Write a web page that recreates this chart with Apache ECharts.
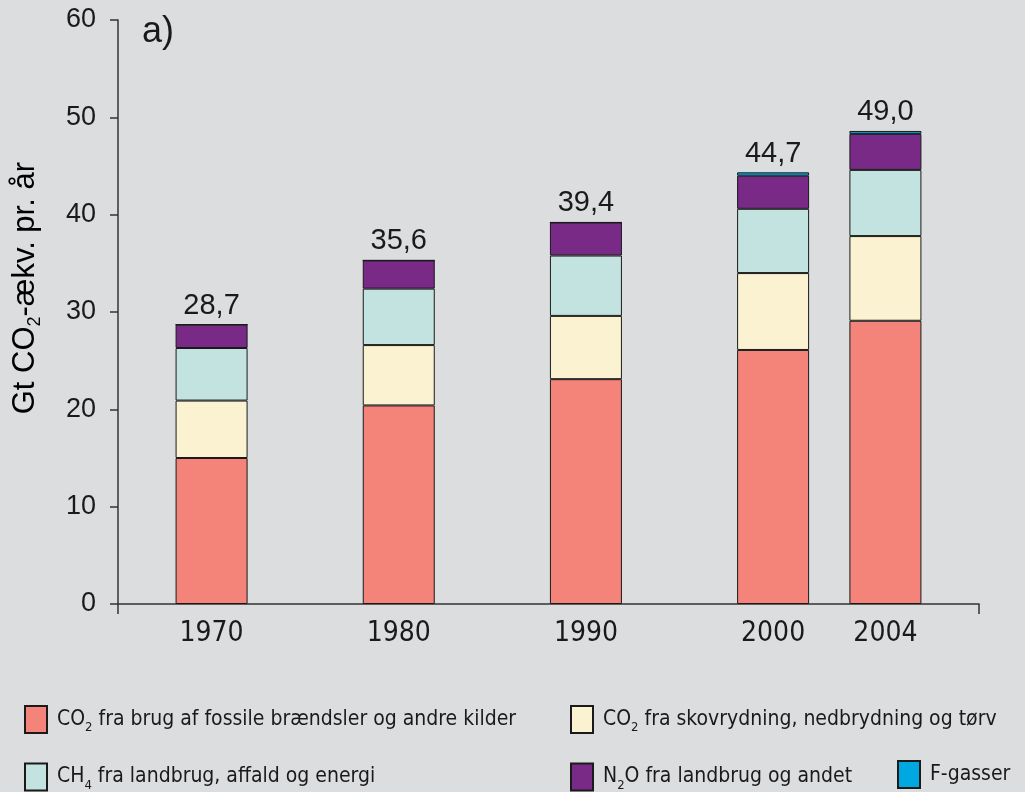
<!DOCTYPE html>
<html>
<head>
<meta charset="utf-8">
<script src="https://cdn.jsdelivr.net/npm/echarts@6/dist/echarts.min.js"></script>
<style>
  html, body { margin: 0; padding: 0; background: #dcdddf; }
  #chart { width: 1025px; height: 792px; }
</style>
</head>
<body>
<div id="chart"></div>
<script>
// data (Gt CO2-eq per year)
const years = ['1970', '1980', '1990', '2000', '2004']
const co2Fossil = [15.0, 20.4, 23.1, 26.1, 29.1]
const co2Forest = [5.9, 6.2, 6.5, 7.9, 8.7]
const ch4 = [5.4, 5.8, 6.2, 6.6, 6.8]
const n2o = [2.4, 2.9, 3.4, 3.4, 3.7]
const fGas = [0, 0, 0, 0.35, 0.3]
const totals = ['28,7', '35,6', '39,4', '44,7', '49,0']
const yTicks = [0, 10, 20, 30, 40, 50, 60]

// empty slots so 2004 sits closer to 2000 like in the original
const gapBefore = [2, 4, 4, 4, 2]
const gapAfter = 2

const categories = []
const slotOf = []
years.forEach((y, i) => {
  for (let k = 0; k < gapBefore[i]; k++) categories.push('')
  slotOf.push(categories.length)
  categories.push(y)
})
for (let k = 0; k < gapAfter; k++) categories.push('')

function spread(values) {
  const out = categories.map(() => '-')
  values.forEach((v, i) => { out[slotOf[i]] = v })
  return out
}

const chart = echarts.init(document.getElementById('chart'))
const font = '"Liberation Sans", Arial, sans-serif'
const narrow = '"Liberation Sans Narrow", "DejaVu Sans Condensed", sans-serif'
const border = { borderColor: '#1a1a1a', borderWidth: 1 }

// rich text pieces for subscripts
const legendRich = {
  n: { fontFamily: narrow, fontSize: 21, color: '#1a1a1a', lineHeight: 30, verticalAlign: 'middle' },
  s: { fontFamily: narrow, fontSize: 13, color: '#1a1a1a', lineHeight: 13, verticalAlign: 'bottom' }
}
const legendNames = {
  fossil: '{n|CO}{s|2}{n| fra brug af fossile brændsler og andre kilder}',
  forest: '{n|CO}{s|2}{n| fra skovrydning, nedbrydning og tørv}',
  ch4: '{n|CH}{s|4}{n| fra landbrug, affald og energi}',
  n2o: '{n|N}{s|2}{n|O fra landbrug og andet}',
  fgas: '{n|F-gasser}'
}

function makeSeries(id, values, color) {
  return {
    id: id,
    name: id,
    type: 'bar',
    stack: 'total',
    barWidth: 72,
    itemStyle: Object.assign({ color: color }, border),
    data: spread(values)
  }
}

const series = [
  makeSeries('fossil', co2Fossil, '#f4837a'),
  makeSeries('forest', co2Forest, '#faf2d1'),
  makeSeries('ch4', ch4, '#c3e3e1'),
  makeSeries('n2o', n2o, '#782a86'),
  makeSeries('fgas', fGas, '#00a8e1')
]
series[4].label = {
  show: true,
  position: 'top',
  distance: 4,
  fontFamily: font,
  fontSize: 29,
  color: '#1a1a1a',
  formatter: p => totals[slotOf.indexOf(p.dataIndex)]
}

function legendBlock(left, top, names) {
  return {
    orient: 'vertical',
    left: left,
    top: top,
    padding: 0,
    icon: 'rect',
    itemWidth: 22,
    itemHeight: 27,
    itemGap: 28,
    selectedMode: false,
    data: names,
    formatter: n => legendNames[n],
    textStyle: { rich: legendRich, padding: [0, 0, 0, 5] }
  }
}

const option = {
  backgroundColor: '#dcdddf',
  animation: false,
  title: {
    text: 'a)',
    left: 142,
    top: 14,
    padding: 0,
    textStyle: { fontFamily: font, fontSize: 36, fontWeight: 'normal', color: '#1a1a1a' }
  },
  grid: { left: 118, right: 46, top: 20, bottom: 188 },
  legend: [
    legendBlock(24, 705, ['fossil', 'ch4']),
    legendBlock(570, 705, ['forest', 'n2o']),
    legendBlock(897, 760, ['fgas'])
  ],
  xAxis: {
    type: 'category',
    data: categories,
    boundaryGap: true,
    axisLine: { lineStyle: { color: '#333', width: 1.5 } },
    axisTick: { show: true, interval: i => i === 0, length: 10, lineStyle: { color: '#333', width: 1.5 } },
    axisLabel: { interval: 0, margin: 16, fontFamily: narrow, fontSize: 28, color: '#1a1a1a' }
  },
  yAxis: {
    type: 'value',
    min: yTicks[0],
    max: yTicks[yTicks.length - 1],
    interval: yTicks[1] - yTicks[0],
    splitLine: { show: false },
    axisLine: { show: true, lineStyle: { color: '#333', width: 1.5 } },
    axisTick: { show: true, length: 8, lineStyle: { color: '#333', width: 1.5 } },
    axisLabel: { margin: 22, fontFamily: font, fontSize: 27, color: '#1a1a1a' }
  },
  graphic: [{
    type: 'text',
    left: 10,
    top: 162,
    rotation: Math.PI / 2,
    style: {
      text: '{a|Gt CO}{s|2}{a|-ækv. pr. år}',
      rich: {
        a: { fontFamily: font, fontSize: 31, color: '#1a1a1a', lineHeight: 38, verticalAlign: 'middle' },
        s: { fontFamily: font, fontSize: 18, color: '#1a1a1a', lineHeight: 18, verticalAlign: 'bottom' }
      }
    }
  }],
  series: series
}

chart.setOption(option)
</script>
</body>
</html>
